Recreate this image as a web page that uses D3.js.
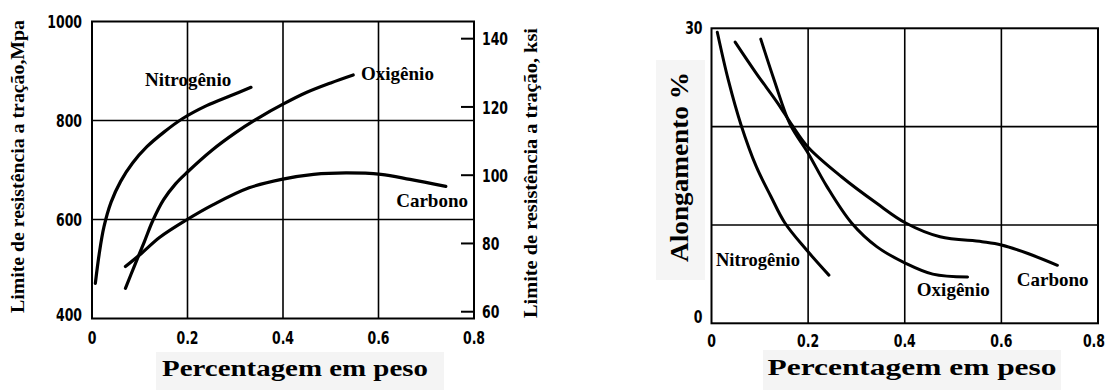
<!DOCTYPE html>
<html>
<head>
<meta charset="utf-8">
<script src="https://cdn.jsdelivr.net/npm/d3@7"></script>
<style>
  html, body { margin: 0; padding: 0; background: #fff; }
  svg { display: block; }
  .tick-label { font-family: "DejaVu Sans", "Liberation Sans", sans-serif; font-weight: bold; font-size: 18.5px; fill: #000; }
  .serif { font-family: "Liberation Serif", "Times New Roman", serif; font-weight: bold; fill: #000; }
</style>
</head>
<body>
<svg id="chart" width="1109" height="390"></svg>
<script>
// Weight percent of each interstitial element vs. tensile strength (MPa)
const nitrogenTensileX = [0.007, 0.015, 0.025, 0.040, 0.060, 0.085, 0.115, 0.150, 0.190, 0.240, 0.290, 0.333];
const nitrogenTensileY = [471, 530, 585, 635, 677, 714, 747, 776, 804, 830, 850, 867];
const oxygenTensileX   = [0.070, 0.090, 0.110, 0.127, 0.150, 0.175, 0.200, 0.250, 0.300, 0.350, 0.400, 0.450, 0.500, 0.547];
const oxygenTensileY   = [461, 509, 556, 597, 640, 672, 696, 739, 775, 806, 833, 857, 876, 892];
const carbonTensileX   = [0.070, 0.104, 0.142, 0.196, 0.254, 0.329, 0.397, 0.464, 0.532, 0.605, 0.666, 0.741];
const carbonTensileY   = [505, 532, 564, 598, 630, 664, 681, 691, 694, 691, 681, 667];

// Weight percent vs. elongation (%)
const nitrogenElongX = [0.012, 0.035, 0.061, 0.093, 0.123, 0.152, 0.196, 0.243];
const nitrogenElongY = [29.6, 24.7, 20.2, 15.9, 12.9, 10.2, 7.5, 4.9];
const oxygenElongX   = [0.102, 0.130, 0.163, 0.200, 0.239, 0.290, 0.342, 0.402, 0.458, 0.530];
const oxygenElongY   = [28.9, 24.7, 20.2, 17.3, 13.9, 10.2, 7.8, 6.1, 5.0, 4.7];
const carbonElongX   = [0.049, 0.093, 0.137, 0.166, 0.200, 0.269, 0.342, 0.402, 0.473, 0.560, 0.600, 0.655, 0.716];
const carbonElongY   = [28.6, 25.4, 22.4, 20.2, 17.9, 14.9, 12.2, 10.2, 8.8, 8.3, 7.97, 7.1, 5.9];

const xTicks = [0, 0.2, 0.4, 0.6, 0.8];
const mpaTicks = [400, 600, 800, 1000];
const ksiTicks = [60, 80, 100, 120, 140];
const elongTicks = [0, 30];
const elongGrid = [10, 20];
const MPA_PER_KSI = 6.895;

const svg = d3.select("#chart");
svg.append("rect").attr("width", 1109).attr("height", 390).attr("fill", "#fff");

const zip = (xs, ys) => xs.map((x, i) => [x, ys[i]]);
const fmtX = d => d === 0 ? "0" : d3.format(".1f")(d);

// numeric labels use a horizontally condensed bold sans
const CONDENSE = 0.675;
function tickText(sel, px, py, anchor) {
  sel.attr("class", "tick-label")
    .attr("text-anchor", anchor)
    .attr("transform", d => `translate(${px(d)},${py(d)}) scale(${CONDENSE},1)`)
    .text(d => d.label);
}

// faint paper patches behind the titles
svg.append("rect").attr("x", 156).attr("y", 352).attr("width", 288).attr("height", 38).attr("fill", "#f4f4f4");
svg.append("rect").attr("x", 763).attr("y", 350).attr("width", 298).attr("height", 40).attr("fill", "#f4f4f4");
svg.append("rect").attr("x", 656).attr("y", 60).attr("width", 49).attr("height", 220).attr("fill", "#f5f5f5");

// ---------- Tensile strength panel ----------
const xL = d3.scaleLinear().domain([0, 0.8]).range([92, 474]);
const yL = d3.scaleLinear().domain([400, 1000]).range([318.5, 21.5]);
const gL = svg.append("g");

gL.selectAll("line.vgrid").data(xTicks.slice(1, -1)).join("line")
  .attr("x1", d => xL(d)).attr("x2", d => xL(d))
  .attr("y1", yL(1000)).attr("y2", yL(400))
  .attr("stroke", "#000").attr("stroke-width", 1.6);
gL.selectAll("line.hgrid").data(mpaTicks.slice(1, -1)).join("line")
  .attr("x1", xL(0)).attr("x2", xL(0.8))
  .attr("y1", d => yL(d)).attr("y2", d => yL(d))
  .attr("stroke", "#000").attr("stroke-width", 1.6);
gL.append("rect")
  .attr("x", xL(0)).attr("y", yL(1000))
  .attr("width", xL(0.8) - xL(0)).attr("height", yL(400) - yL(1000))
  .attr("fill", "none").attr("stroke", "#000").attr("stroke-width", 2);

// ksi ticks on the right spine, pointing inward
gL.selectAll("line.ksi").data(ksiTicks).join("line")
  .attr("x1", xL(0.8) - 13).attr("x2", xL(0.8))
  .attr("y1", d => yL(d * MPA_PER_KSI)).attr("y2", d => yL(d * MPA_PER_KSI))
  .attr("stroke", "#000").attr("stroke-width", 2);
gL.selectAll("text.ksi").data(ksiTicks.map(v => ({ v, label: String(v) }))).join("text")
  .call(tickText, () => xL(0.8) + 8, d => yL(d.v * MPA_PER_KSI) + 6.6, "start");

gL.selectAll("text.mpa").data(mpaTicks.map(v => ({ v, label: String(v) }))).join("text")
  .call(tickText, () => xL(0) - 10, d => yL(d.v) + (d.v === 400 ? 2.8 : 6.6), "end");
gL.selectAll("text.xl").data(xTicks.map(v => ({ v, label: fmtX(v) }))).join("text")
  .call(tickText, d => xL(d.v), () => 344, "middle");

const lineL = d3.line().x(d => xL(d[0])).y(d => yL(d[1])).curve(d3.curveCatmullRom.alpha(0.5));
[[nitrogenTensileX, nitrogenTensileY], [oxygenTensileX, oxygenTensileY], [carbonTensileX, carbonTensileY]]
  .forEach(([xs, ys]) => {
    gL.append("path").attr("d", lineL(zip(xs, ys)))
      .attr("fill", "none").attr("stroke", "#000").attr("stroke-width", 3.2).attr("stroke-linecap", "round");
  });

gL.append("text").attr("class", "serif").attr("font-size", 19).attr("x", xL(0.111)).attr("y", yL(870)).text("Nitrogênio");
gL.append("text").attr("class", "serif").attr("font-size", 19).attr("x", xL(0.5635)).attr("y", yL(882)).text("Oxigênio");
gL.append("text").attr("class", "serif").attr("font-size", 19).attr("x", xL(0.637)).attr("y", yL(625)).text("Carbono");

gL.append("text").attr("class", "serif").attr("font-size", 18)
  .attr("transform", "translate(24,166.5) rotate(-90)").attr("text-anchor", "middle")
  .attr("textLength", 293).attr("lengthAdjust", "spacingAndGlyphs")
  .text("Limite de resistência a tração,Mpa");
gL.append("text").attr("class", "serif").attr("font-size", 18)
  .attr("transform", "translate(537,173) rotate(-90)").attr("text-anchor", "middle")
  .attr("textLength", 290).attr("lengthAdjust", "spacingAndGlyphs")
  .text("Limite de resistência a tração, ksi");
gL.append("text").attr("class", "serif").attr("font-size", 23)
  .attr("x", 295).attr("y", 376).attr("text-anchor", "middle")
  .attr("textLength", 266).attr("lengthAdjust", "spacingAndGlyphs")
  .text("Percentagem em peso");

// ---------- Elongation panel ----------
const xR = d3.scaleLinear().domain([0, 0.8]).range([711.5, 1098]);
const yR = d3.scaleLinear().domain([0, 30]).range([323.3, 28.3]);
const gR = svg.append("g");

gR.selectAll("line.vgrid").data(xTicks.slice(1, -1)).join("line")
  .attr("x1", d => xR(d)).attr("x2", d => xR(d))
  .attr("y1", yR(30)).attr("y2", yR(0))
  .attr("stroke", "#000").attr("stroke-width", 1.6);
gR.selectAll("line.hgrid").data(elongGrid).join("line")
  .attr("x1", xR(0)).attr("x2", xR(0.8))
  .attr("y1", d => yR(d)).attr("y2", d => yR(d))
  .attr("stroke", "#000").attr("stroke-width", 1.6);
gR.append("rect")
  .attr("x", xR(0)).attr("y", yR(30))
  .attr("width", xR(0.8) - xR(0)).attr("height", yR(0) - yR(30))
  .attr("fill", "none").attr("stroke", "#000").attr("stroke-width", 2);

gR.selectAll("text.yr").data(elongTicks.map(v => ({ v, label: String(v) }))).join("text")
  .call(tickText, () => xR(0) - 9, d => yR(d.v) + (d.v === 0 ? 0 : 5.5), "end");
// the last label sits against the page edge, so it is right-aligned
gR.selectAll("text.xr").data(xTicks.map(v => ({ v, label: fmtX(v) }))).join("text")
  .call(tickText, d => d.v === 0.8 ? 1105 : xR(d.v), () => 347, d => d.v === 0.8 ? "end" : "middle");

const lineR = d3.line().x(d => xR(d[0])).y(d => yR(d[1])).curve(d3.curveCatmullRom.alpha(0.5));
[[nitrogenElongX, nitrogenElongY], [oxygenElongX, oxygenElongY], [carbonElongX, carbonElongY]]
  .forEach(([xs, ys]) => {
    gR.append("path").attr("d", lineR(zip(xs, ys)))
      .attr("fill", "none").attr("stroke", "#000").attr("stroke-width", 3).attr("stroke-linecap", "round");
  });

gR.append("text").attr("class", "serif").attr("font-size", 18.5).attr("x", xR(0.0093)).attr("y", yR(5.83)).text("Nitrogênio");
gR.append("text").attr("class", "serif").attr("font-size", 19).attr("x", xR(0.425)).attr("y", yR(2.78)).text("Oxigênio");
gR.append("text").attr("class", "serif").attr("font-size", 19).attr("x", xR(0.632)).attr("y", yR(3.79)).text("Carbono");

gR.append("text").attr("class", "serif").attr("font-size", 26)
  .attr("transform", "translate(688,167) rotate(-90)").attr("text-anchor", "middle")
  .attr("textLength", 190).attr("lengthAdjust", "spacingAndGlyphs")
  .text("Alongamento %");
gR.append("text").attr("class", "serif").attr("font-size", 23)
  .attr("x", 912).attr("y", 375).attr("text-anchor", "middle")
  .attr("textLength", 289).attr("lengthAdjust", "spacingAndGlyphs")
  .text("Percentagem em peso");
</script>
</body>
</html>
